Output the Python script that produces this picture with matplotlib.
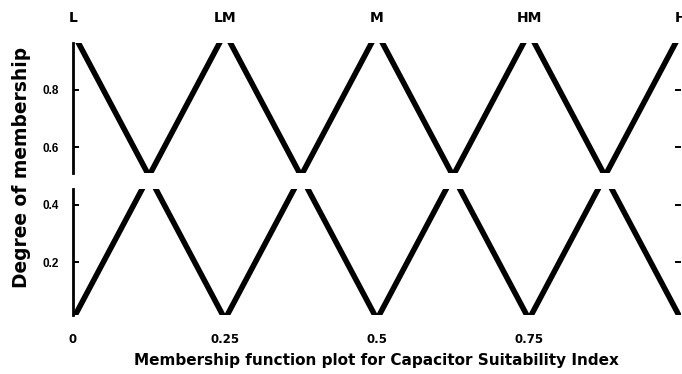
import matplotlib
matplotlib.use("Agg")
import matplotlib.pyplot as plt

# Triangular membership functions for the Capacitor Suitability Index
mf_names = ["L", "LM", "M", "HM", "H"]
mf_params = [
    [-0.25, 0.00, 0.25],
    [0.00, 0.25, 0.50],
    [0.25, 0.50, 0.75],
    [0.50, 0.75, 1.00],
    [0.75, 1.00, 1.25],
]
mf_heights = [0.0, 1.0, 0.0]

x_ticks = [0, 0.25, 0.5, 0.75]
x_tick_labels = ["0", "0.25", "0.5", "0.75"]
y_ticks_upper = [0.6, 0.8]
y_ticks_lower = [0.2, 0.4]

plt.rcParams["font.family"] = ["Liberation Sans", "DejaVu Sans"]
plt.rcParams["font.weight"] = "bold"
WIDE = ["DejaVu Sans"]

W, H = 682, 374
fig = plt.figure(figsize=(W / 100, H / 100), dpi=100)

left_px, right_px = 73, 681
def box(top_px, bottom_px):
    return [left_px / W, (H - bottom_px) / H, (right_px - left_px) / W, (bottom_px - top_px) / H]

# broken y axis: upper and lower parts on a common scale
ax_top = fig.add_axes(box(43, 173))
ax_bot = fig.add_axes(box(189, 315))
ax_top.set_ylim(0.51, 0.964)
ax_bot.set_ylim(0.015, 0.455)

for ax in (ax_top, ax_bot):
    for p in mf_params:
        ax.plot(p, mf_heights, color="black", lw=4.0, solid_capstyle="butt",
                solid_joinstyle="miter")
    ax.set_xlim(0, 1)
    for s in ("top", "bottom", "right"):
        ax.spines[s].set_visible(False)
    ax.spines["left"].set_linewidth(2.0)
    ax.tick_params(axis="y", which="both", direction="in", length=4, width=1.4,
                   right=True, labelsize=8.5, pad=10)

ax_top.set_yticks(y_ticks_upper)
ax_top.set_yticklabels([f"{v:.1f}" for v in y_ticks_upper], fontweight="bold")
ax_bot.set_yticks(y_ticks_lower)
ax_bot.set_yticklabels([f"{v:.1f}" for v in y_ticks_lower], fontweight="bold")

# membership function names along the top
ax_top.set_xticks([p[1] for p in mf_params])
ax_top.set_xticklabels(mf_names, fontweight="bold", family=WIDE)
ax_top.tick_params(axis="x", bottom=False, labelbottom=False, top=False,
                   labeltop=True, length=0, labelsize=10, pad=13)

ax_bot.set_xticks(x_ticks)
ax_bot.set_xticklabels(x_tick_labels, fontweight="bold", family=WIDE)
ax_bot.tick_params(axis="x", bottom=False, length=0, labelsize=8.5, pad=13)

fig.text(376 / W, (H - 361) / H, "Membership function plot for Capacitor Suitability Index",
         ha="center", va="center", fontsize=11, fontweight="bold", family=WIDE)
fig.text(22 / W, (H - 167) / H, "Degree of membership", rotation=90,
         ha="center", va="center", fontsize=13.4, fontweight="bold", family=WIDE)

fig.savefig("out.png", dpi=100)
